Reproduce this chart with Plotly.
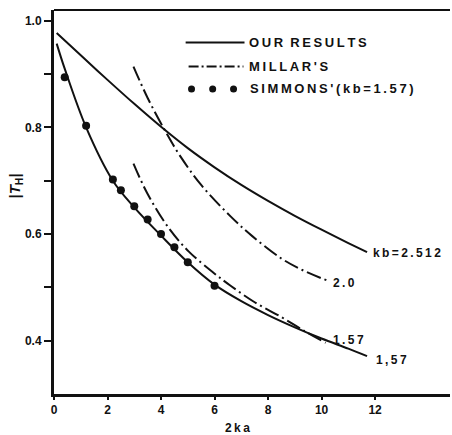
import plotly.graph_objects as go

# ---- data ----
ours_2512_x = [0.1, 1, 2, 3, 4, 5, 6, 7, 8, 9, 10, 11, 11.7]
ours_2512_y = [0.977, 0.935, 0.889, 0.844, 0.801, 0.761, 0.725, 0.692, 0.662, 0.634, 0.608, 0.583, 0.566]

ours_157_x = [0.1, 0.4, 1.2, 2.2, 3.0, 4.0, 5.0, 6.0, 7.0, 8.0, 9.0, 10.0, 11.0, 11.7]
ours_157_y = [0.957, 0.91, 0.80, 0.70, 0.650, 0.597, 0.547, 0.505, 0.474, 0.448, 0.425, 0.404, 0.385, 0.371]

millar_20_x = [2.97, 3.5, 4.17, 4.73, 5.5, 6.6, 7.41, 8.47, 9.3, 10.2]
millar_20_y = [0.914, 0.855, 0.792, 0.745, 0.692, 0.633, 0.596, 0.555, 0.532, 0.513]

millar_157_x = [2.97, 3.48, 4.29, 5.04, 5.97, 6.6, 7.5, 8.47, 9.3, 10.15]
millar_157_y = [0.732, 0.677, 0.611, 0.567, 0.527, 0.503, 0.472, 0.445, 0.420, 0.396]

simmons_x = [0.4, 1.2, 2.2, 2.5, 3.0, 3.5, 4.0, 4.5, 5.0, 6.0]
simmons_y = [0.894, 0.803, 0.702, 0.682, 0.652, 0.627, 0.600, 0.575, 0.547, 0.503]

x_ticks = [0, 2, 4, 6, 8, 10, 12]
y_ticks = [0.4, 0.6, 0.8, 1.0]
y_ticktext = ["0.4", "0.6", "0.8", "1.0"]
y_minor_ticks = [0.5, 0.7, 0.9]

FONT = "Liberation Sans"
BLACK = "#111111"
DASHDOT = "15px,4px,2px,4px"
ts = "\u2009"

def spaced(s):
    return ts.join(list(s))

fig = go.Figure()
line_w = 2
fig.add_trace(go.Scatter(x=ours_2512_x, y=ours_2512_y, mode="lines", line=dict(color=BLACK, width=line_w, shape="spline"), showlegend=False))
fig.add_trace(go.Scatter(x=ours_157_x, y=ours_157_y, mode="lines", line=dict(color=BLACK, width=line_w, shape="spline"), showlegend=False))
fig.add_trace(go.Scatter(x=millar_20_x, y=millar_20_y, mode="lines", line=dict(color=BLACK, width=line_w, shape="spline", dash=DASHDOT), showlegend=False))
fig.add_trace(go.Scatter(x=millar_157_x, y=millar_157_y, mode="lines", line=dict(color=BLACK, width=line_w, shape="spline", dash=DASHDOT), showlegend=False))
fig.add_trace(go.Scatter(x=simmons_x, y=simmons_y, mode="markers", marker=dict(color=BLACK, size=8), showlegend=False))

# manual legend
shapes = [
    dict(type="line", xref="x", yref="y", x0=4.92, x1=7.12, y0=0.959, y1=0.959, line=dict(color=BLACK, width=2)),
    dict(type="line", xref="x", yref="y", x0=5.03, x1=7.08, y0=0.914, y1=0.914, line=dict(color=BLACK, width=2, dash="10px,3px,2px,3px")),
    # top border
    dict(type="line", xref="paper", yref="paper", x0=0, x1=1, y0=1, y1=1, line=dict(color=BLACK, width=2)),
]
for dx in [5.14, 5.93, 6.71]:
    shapes.append(dict(type="circle", xref="x", yref="y", xsizemode="pixel", ysizemode="pixel",
                       xanchor=dx, yanchor=0.872, x0=-3.5, x1=3.5, y0=-3.5, y1=3.5,
                       fillcolor=BLACK, line=dict(color=BLACK, width=0)))

lf = dict(family=FONT, size=13, color=BLACK, weight="bold")
cf = dict(family=FONT, size=12, color=BLACK, weight="bold")
annotations = [
    dict(x=7.2, y=0.959, text=spaced("OUR") + "  " + spaced("RESULTS"), showarrow=False, xanchor="left", yanchor="middle", font=lf),
    dict(x=7.2, y=0.914, text=spaced("MILLAR'S"), showarrow=False, xanchor="left", yanchor="middle", font=lf),
    dict(x=7.25, y=0.872, text=spaced("SIMMONS'(kb=1.57)"), showarrow=False, xanchor="left", yanchor="middle", font=lf),
    dict(x=11.85, y=0.565, text=spaced("kb=2.512"), showarrow=False, xanchor="left", yanchor="middle", font=cf),
    dict(x=10.35, y=0.509, text=spaced("2.0"), showarrow=False, xanchor="left", yanchor="middle", font=cf),
    dict(x=10.35, y=0.402, text=spaced("1.57"), showarrow=False, xanchor="left", yanchor="middle", font=cf),
    dict(x=11.95, y=0.364, text=spaced("1,57"), showarrow=False, xanchor="left", yanchor="middle", font=cf),
    # axis titles
    dict(x=(237 - 53.5) / 396.5, y=-(428 - 394) / 384, xref="paper", yref="paper", text=spaced("2ka"),
         showarrow=False, xanchor="center", yanchor="middle", font=dict(family=FONT, size=12, color=BLACK, weight="bold")),
    dict(x=-(53.5 - 14) / 396.5, y=(394 - 186) / 384, xref="paper", yref="paper", text="|<i>T</i><sub>H</sub>|",
         textangle=-90, showarrow=False, xanchor="center", yanchor="middle", font=dict(family=FONT, size=15, color=BLACK, weight="bold")),
]

fig.update_layout(
    width=452, height=435,
    margin=dict(l=53.5, r=2, t=10, b=41),
    paper_bgcolor="white", plot_bgcolor="white",
    showlegend=False,
    shapes=shapes,
    annotations=annotations,
    xaxis=dict(range=[0, 14.8], tickvals=x_ticks, ticktext=[str(v) for v in x_ticks],
               showgrid=False, zeroline=False, showline=True, linecolor=BLACK, linewidth=3,
               ticks="outside", ticklen=3, tickwidth=1.5, tickcolor=BLACK,
               tickfont=dict(family=FONT, size=12, color=BLACK, weight="bold")),
    yaxis=dict(range=[0.30, 1.02], tickvals=y_ticks, ticktext=y_ticktext,
               showgrid=False, zeroline=False, showline=True, linecolor=BLACK, linewidth=3,
               ticks="outside", ticklen=7, tickwidth=1.5, tickcolor=BLACK,
               minor=dict(tickmode="array", tickvals=y_minor_ticks, ticks="outside", ticklen=7,
                          tickwidth=1.5, tickcolor=BLACK, showgrid=False),
               tickfont=dict(family=FONT, size=12, color=BLACK, weight="bold")),
)

fig.write_html("out.html")
